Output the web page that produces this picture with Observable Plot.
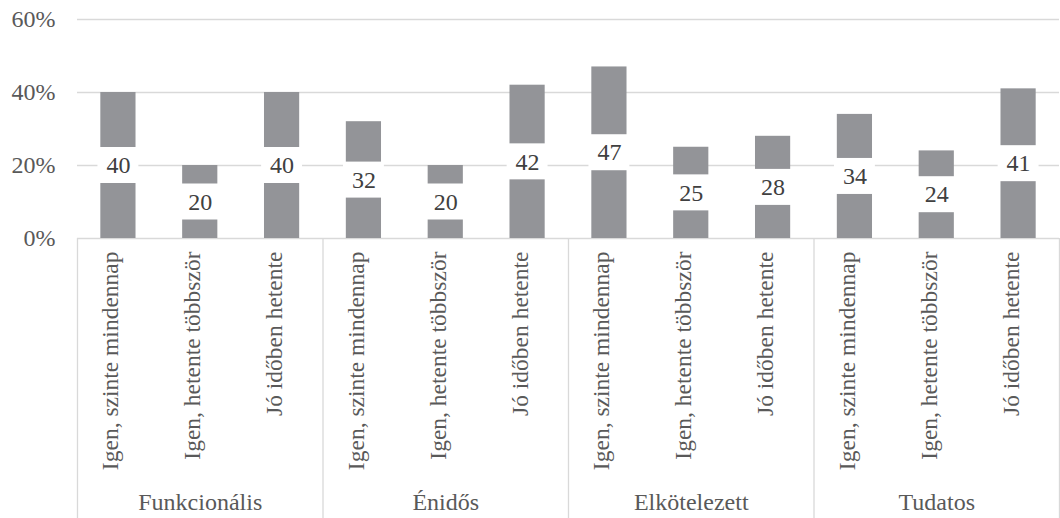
<!DOCTYPE html>
<html>
<head>
<meta charset="utf-8">
<script src="https://cdn.jsdelivr.net/npm/d3@7"></script>
<script src="https://cdn.jsdelivr.net/npm/@observablehq/plot@0.6"></script>
<style>
  html, body { margin: 0; padding: 0; background: #fff; }
  #chart svg, #chart svg text { font-family: "Liberation Serif", "Times New Roman", serif !important; }
</style>
</head>
<body>
<div id="chart"></div>
<script>
const groups = ["Funkcionális", "Énidős", "Elkötelezett", "Tudatos"];
const subcats = ["Igen, szinte mindennap", "Igen, hetente többször", "Jó időben hetente"];
const values = [
  [40, 20, 40],
  [32, 20, 42],
  [47, 25, 28],
  [34, 24, 41]
];
const yTicks = [0, 20, 40, 60];

const rows = [];
groups.forEach((g, gi) => subcats.forEach((s, si) => {
  rows.push({group: g, sub: s, value: values[gi][si], pos: gi * subcats.length + si});
}));
const n = rows.length;
const groupRows = groups.map((g, gi) => ({group: g, mid: gi * subcats.length + (subcats.length - 1) / 2}));
const bounds = d3.range(groups.length + 1).map(i => i * subcats.length - 0.5);

const barColor = "#939498";
const gridColor = "#d9d9d9";
const axisText = "#595959";
const FS = 24;

const chart = Plot.plot({
  width: 1060,
  height: 518,
  marginLeft: 77,
  marginRight: 1,
  marginTop: 19,
  marginBottom: 280,
  style: {fontSize: FS + "px", background: "#fff"},
  x: {domain: [-0.5, n - 0.5], axis: null},
  y: {domain: [0, 60], axis: null},
  marks: [
    Plot.ruleY(yTicks, {stroke: gridColor, strokeWidth: 1.3}),
    Plot.ruleX(bounds, {x: d => d, y1: 0, y2: 0, insetBottom: -280, stroke: gridColor, strokeWidth: 1.3}),
    Plot.axisY(yTicks, {label: null, tickSize: 0, tickPadding: 22, tickFormat: d => d + "%", fill: axisText, fontSize: FS}),
    Plot.rectY(rows, {x1: d => d.pos - 0.215, x2: d => d.pos + 0.215, y1: 0, y2: "value", fill: barColor}),
    Plot.rect(rows, {x1: d => d.pos - 0.25, x2: d => d.pos + 0.25, y1: d => d.value / 2, y2: d => d.value / 2, insetTop: -18, insetBottom: -18, fill: "#fff"}),
    Plot.text(rows, {x: "pos", y: d => d.value / 2, text: d => String(d.value), fill: "#404040", fontSize: FS}),
    Plot.text(rows, {x: "pos", frameAnchor: "bottom", text: "sub", rotate: -90, textAnchor: "end", dy: 13, fill: axisText, fontSize: 23.5}),
    Plot.text(groupRows, {x: "mid", frameAnchor: "bottom", text: "group", dy: 271, fill: axisText, fontSize: FS})
  ]
});
document.getElementById("chart").appendChild(chart);
</script>
</body>
</html>
